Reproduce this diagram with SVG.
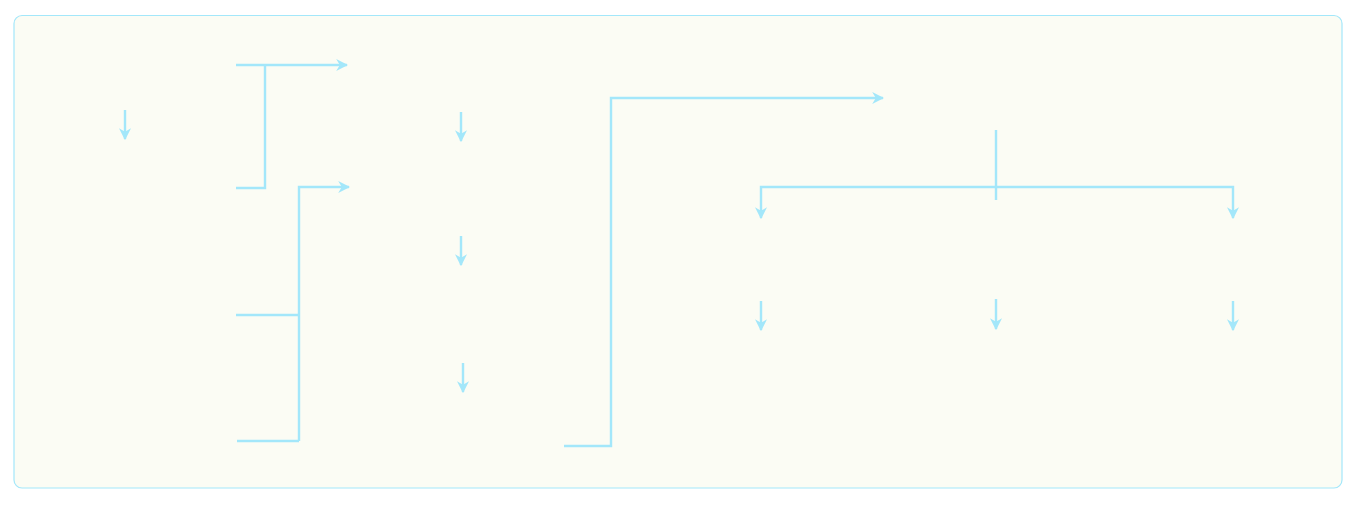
<svg xmlns="http://www.w3.org/2000/svg" width="1357" height="506" viewBox="0 0 1357 506">
<defs>
<marker id="ah" viewBox="0 0 10 10" refX="9" refY="5" markerWidth="12" markerHeight="12" markerUnits="userSpaceOnUse" orient="auto">
<path d="M0,0 L10,5 L0,10 L3,5 z" fill="#A3E7FA"/>
</marker>
<style>
.c{fill:none;stroke:#A3E7FA;stroke-width:2.4}
.a{marker-end:url(#ah)}
</style>
</defs>
<rect id="frame" x="14" y="15.5" width="1328" height="472.5" rx="8" fill="#FBFCF4" stroke="#A3E7FA" stroke-width="1.2"/>
<g id="connectors">
<path class="c a" d="M125,110 V139"/>
<path class="c a" d="M236,65 H347"/>
<path class="c" d="M236,188 H265 V65"/>
<path class="c a" d="M299,441 V187 H349"/>
<path class="c" d="M236,315 H299"/>
<path class="c" d="M237,441 H299"/>
<path class="c a" d="M461,112 V141"/>
<path class="c a" d="M461,236 V265"/>
<path class="c a" d="M463,363 V392"/>
<path class="c a" d="M564,446 H611 V98 H883"/>
<path class="c" d="M996,130 V200"/>
<path class="c a" d="M996,187 H761 V218"/>
<path class="c a" d="M996,187 H1233 V218"/>
<path class="c a" d="M761,301 V330"/>
<path class="c a" d="M996,299 V329"/>
<path class="c a" d="M1233,301 V330"/>
</g>
</svg>
